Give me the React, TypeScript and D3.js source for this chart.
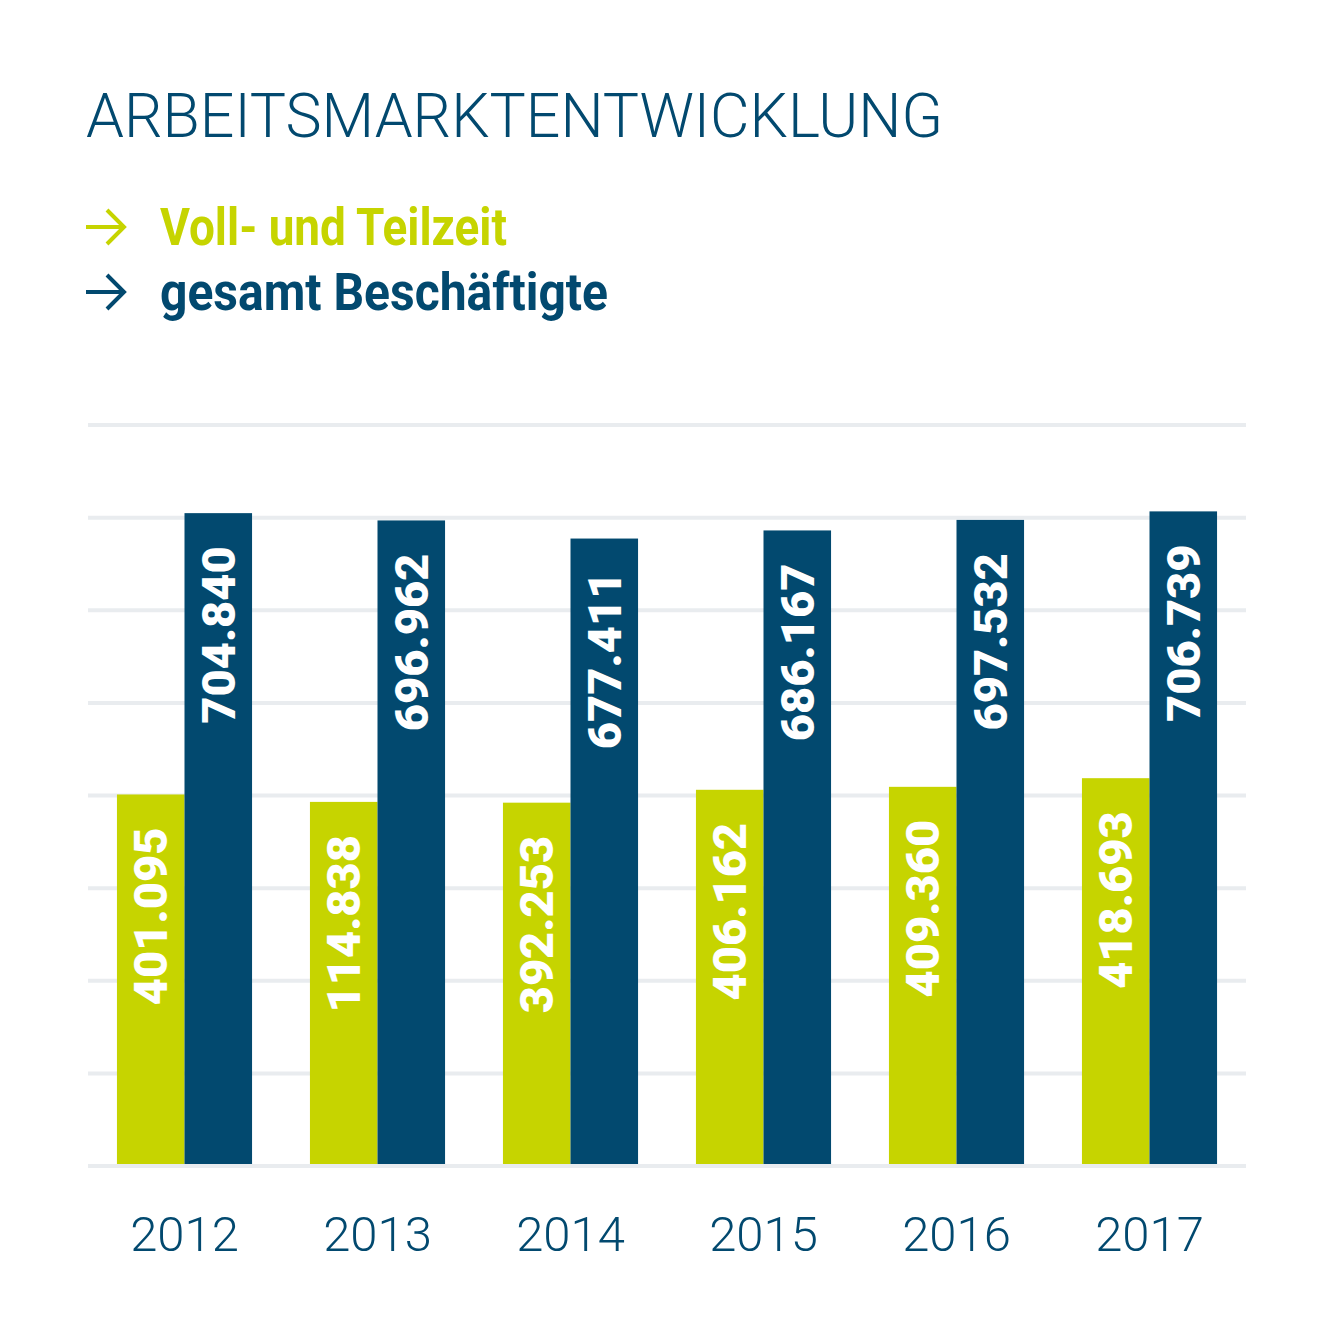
import { useEffect, useRef } from 'react';
import * as d3 from 'd3';

/**
 * Arbeitsmarktentwicklung
 *
 * Grouped bar chart: Voll- und Teilzeit vs. gesamt Beschäftigte, 2012–2017
 */

const years = ['2012', '2013', '2014', '2015', '2016', '2017'];
const vollTeilzeit = [401095, 393100, 392253, 406162, 409360, 418693];
const gesamt = [704840, 696962, 677411, 686167, 697532, 706739];
// printed labels (2013 label as printed in the original)
const vollLabels = ['401.095', '114.838', '392.253', '406.162', '409.360', '418.693'];
const gesamtLabels = ['704.840', '696.962', '677.411', '686.167', '697.532', '706.739'];
const gridTicks = [0, 100000, 200000, 300000, 400000, 500000, 600000, 700000, 800000];

const seriesNames = ['Voll- und Teilzeit', 'gesamt Beschäftigte'];

export default function App() {
  const svgRef = useRef<SVGSVGElement>(null);

  useEffect(() => {
    if (!svgRef.current) return;

    const width = 1334;
    const height = 1334;
    const blue = '#02496f';
    const green = '#c6d400';
    const grid = '#e9ecef';

    const svg = d3.select(svgRef.current);
    svg.selectAll('*').remove();
    svg.attr('width', width).attr('height', height);

    svg.append('rect').attr('width', width).attr('height', height).attr('fill', '#fff');

    // Title
    svg
      .append('text')
      .attr('x', 86)
      .attr('y', 137)
      .attr('font-family', 'Roboto, sans-serif')
      .attr('font-weight', 300)
      .attr('font-size', 61)
      .attr('fill', blue)
      .attr('textLength', 857)
      .attr('lengthAdjust', 'spacingAndGlyphs')
      .text('ARBEITSMARKTENTWICKLUNG');

    // Legend
    const legendColors = [green, blue];
    const legendY = [227, 292];
    const legendWidths = [347, 448];
    seriesNames.forEach((name, i) => {
      const lg = svg.append('g').attr('transform', `translate(0,${legendY[i]})`);
      lg.append('path')
        .attr('d', 'M86,0 H123 M107,-17 L124,0 L107,17')
        .attr('fill', 'none')
        .attr('stroke', legendColors[i])
        .attr('stroke-width', 4);
      lg.append('text')
        .attr('x', 160)
        .attr('y', 18)
        .attr('font-family', 'Roboto, sans-serif')
        .attr('font-weight', 700)
        .attr('font-size', 51)
        .attr('fill', legendColors[i])
        .attr('textLength', legendWidths[i])
        .attr('lengthAdjust', 'spacingAndGlyphs')
        .text(name);
    });

    // Scales
    const yScale = d3.scaleLinear().domain([0, 800000]).range([1166, 425]);

    const x0 = d3
      .scaleBand()
      .domain(years)
      .range([88, 1246])
      .paddingInner(0.3)
      .paddingOuter(0.15);

    const x1 = d3
      .scaleBand()
      .domain(['voll', 'gesamt'])
      .range([0, x0.bandwidth()]);

    // Gridlines
    svg
      .append('g')
      .selectAll('line')
      .data(gridTicks)
      .enter()
      .append('line')
      .attr('x1', 88)
      .attr('x2', 1246)
      .attr('y1', (d) => yScale(d))
      .attr('y2', (d) => yScale(d))
      .attr('stroke', grid)
      .attr('stroke-width', 4);

    const rows = years.map((year, i) => ({
      year,
      bars: [
        { key: 'voll', value: vollTeilzeit[i], label: vollLabels[i], color: green },
        { key: 'gesamt', value: gesamt[i], label: gesamtLabels[i], color: blue },
      ],
    }));

    const groups = svg
      .append('g')
      .selectAll('g')
      .data(rows)
      .enter()
      .append('g')
      .attr('transform', (d) => `translate(${x0(d.year)},0)`);

    groups
      .selectAll('rect')
      .data((d) => d.bars)
      .enter()
      .append('rect')
      .attr('x', (d) => x1(d.key) || 0)
      .attr('y', (d) => yScale(d.value))
      .attr('width', x1.bandwidth())
      .attr('height', (d) => yScale(0) - yScale(d.value) - 2)
      .attr('fill', (d) => d.color);

    // Value labels, rotated inside bars
    groups
      .selectAll('text.value')
      .data((d) => d.bars)
      .enter()
      .append('text')
      .attr('class', 'value')
      .attr('transform', (d) => {
        const cx = (x1(d.key) || 0) + x1.bandwidth() / 2;
        const cy = yScale(d.value) + 33;
        return `translate(${cx},${cy}) rotate(-90)`;
      })
      .attr('text-anchor', 'end')
      .attr('dominant-baseline', 'central')
      .attr('font-family', 'Roboto, sans-serif')
      .attr('font-weight', 900)
      .attr('font-size', 47)
      .attr('fill', '#fff')
      .text((d) => d.label);

    // Year labels
    svg
      .append('g')
      .selectAll('text')
      .data(years)
      .enter()
      .append('text')
      .attr('x', (d) => (x0(d) || 0) + x0.bandwidth() / 2)
      .attr('y', 1251)
      .attr('text-anchor', 'middle')
      .attr('font-family', 'Roboto, sans-serif')
      .attr('font-weight', 300)
      .attr('font-size', 49)
      .attr('fill', blue)
      .text((d) => d);
  }, []);

  return (
    <div style={{ position: 'absolute', top: 0, left: 0 }}>
      <svg ref={svgRef} style={{ display: 'block' }} />
    </div>
  );
}
